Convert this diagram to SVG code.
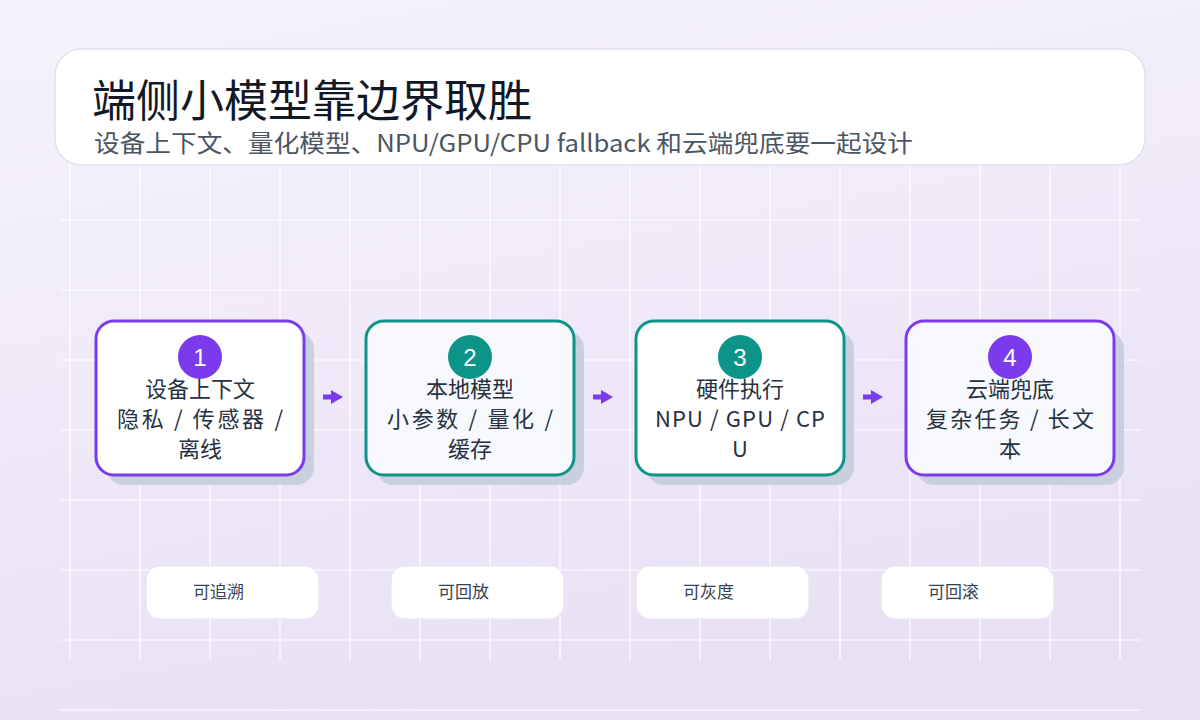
<svg xmlns="http://www.w3.org/2000/svg" width="1200" height="720" viewBox="0 0 1200 720">
<defs>
<linearGradient id="bg" x1="0" y1="0" x2="0.3" y2="1"><stop offset="0" stop-color="#f6f3fc"/><stop offset="1" stop-color="#e9e0f6"/></linearGradient>
<marker id="ah" markerWidth="12" markerHeight="14" refX="6" refY="7" orient="auto" markerUnits="userSpaceOnUse"><path d="M0,0 L12,7 L0,14 Z" fill="#7c3aed"/></marker>
<style>
.grid line{stroke:#ffffff;stroke-width:1.2}
.t{font-family:"Noto Sans CJK SC","Liberation Sans",sans-serif;fill:#1f2937}
.shadow{fill:#c9d0dd}
.lbl{font-size:22px;text-anchor:middle;fill:#273142}
.badge{font-size:24px;text-anchor:middle;fill:#fff;font-family:"Liberation Sans","Noto Sans CJK SC",sans-serif}
.pill{fill:#fff;stroke:#e3e6f0;stroke-width:1.2}
.pt{font-size:17px;fill:#334155}
.con{stroke:#7c3aed;stroke-width:5;fill:none}
</style>
</defs>
<rect width="1200" height="720" fill="url(#bg)"/>
<g class="grid">
<line x1="70" y1="160" x2="70" y2="660"/><line x1="140" y1="160" x2="140" y2="660"/><line x1="210" y1="160" x2="210" y2="660"/><line x1="280" y1="160" x2="280" y2="660"/><line x1="350" y1="160" x2="350" y2="660"/><line x1="420" y1="160" x2="420" y2="660"/><line x1="490" y1="160" x2="490" y2="660"/><line x1="560" y1="160" x2="560" y2="660"/><line x1="630" y1="160" x2="630" y2="660"/><line x1="700" y1="160" x2="700" y2="660"/><line x1="770" y1="160" x2="770" y2="660"/><line x1="840" y1="160" x2="840" y2="660"/><line x1="910" y1="160" x2="910" y2="660"/><line x1="980" y1="160" x2="980" y2="660"/><line x1="1050" y1="160" x2="1050" y2="660"/><line x1="1120" y1="160" x2="1120" y2="660"/>
<line x1="60" y1="220" x2="1140" y2="220"/><line x1="60" y1="290" x2="1140" y2="290"/><line x1="60" y1="360" x2="1140" y2="360"/><line x1="60" y1="430" x2="1140" y2="430"/><line x1="60" y1="500" x2="1140" y2="500"/><line x1="60" y1="570" x2="1140" y2="570"/><line x1="60" y1="640" x2="1140" y2="640"/><line x1="60" y1="710" x2="1140" y2="710"/>
</g>
<g id="header">
<rect x="55" y="49" width="1090" height="116" rx="26" fill="#fff" stroke="#dde3ee" stroke-width="1.5"/>
<text class="t" x="92" y="117" font-size="44" style="fill:#111827">端侧小模型靠边界取胜</text>
<text class="t" x="94" y="152" font-size="24" textLength="819" lengthAdjust="spacingAndGlyphs" style="fill:#4b5563">设备上下文、量化模型、NPU/GPU/CPU fallback 和云端兜底要一起设计</text>
</g>
<g id="connectors">
<line class="con" x1="323" y1="397" x2="337" y2="397" marker-end="url(#ah)"/>
<line class="con" x1="593" y1="397" x2="607" y2="397" marker-end="url(#ah)"/>
<line class="con" x1="863" y1="397" x2="877" y2="397" marker-end="url(#ah)"/>
</g>
<g id="n1">
<rect class="shadow" x="106" y="331" width="208" height="154" rx="18"/>
<rect x="96" y="321" width="208" height="154" rx="18" fill="#fff" stroke="#7c3aed" stroke-width="3"/>
<circle cx="200" cy="357" r="22" fill="#7c3aed"/><text class="badge" x="200" y="366">1</text>
<text class="t lbl" x="200" y="397">设备上下文</text><text class="t lbl" x="200" y="427" textLength="166">隐私 / 传感器 /</text><text class="t lbl" x="200" y="457">离线</text>
</g>
<g id="n2">
<rect class="shadow" x="376" y="331" width="208" height="154" rx="18"/>
<rect x="366" y="321" width="208" height="154" rx="18" fill="#f8f9fc" stroke="#0d9488" stroke-width="3"/>
<circle cx="470" cy="357" r="22" fill="#0d9488"/><text class="badge" x="470" y="366">2</text>
<text class="t lbl" x="470" y="397">本地模型</text><text class="t lbl" x="470" y="427" textLength="166">小参数 / 量化 /</text><text class="t lbl" x="470" y="457">缓存</text>
</g>
<g id="n3">
<rect class="shadow" x="646" y="331" width="208" height="154" rx="18"/>
<rect x="636" y="321" width="208" height="154" rx="18" fill="#fff" stroke="#0d9488" stroke-width="3"/>
<circle cx="740" cy="357" r="22" fill="#0d9488"/><text class="badge" x="740" y="366">3</text>
<text class="t lbl" x="740" y="397">硬件执行</text><text class="t lbl" x="740" y="427" textLength="170">NPU / GPU / CP</text><text class="t lbl" x="740" y="457">U</text>
</g>
<g id="n4">
<rect class="shadow" x="916" y="331" width="208" height="154" rx="18"/>
<rect x="906" y="321" width="208" height="154" rx="18" fill="#f8f9fc" stroke="#7c3aed" stroke-width="3"/>
<circle cx="1010" cy="357" r="22" fill="#7c3aed"/><text class="badge" x="1010" y="366">4</text>
<text class="t lbl" x="1010" y="397">云端兜底</text><text class="t lbl" x="1010" y="427" textLength="168">复杂任务 / 长文</text><text class="t lbl" x="1010" y="457">本</text>
</g>
<g id="p1"><rect class="pill" x="146" y="566" width="173" height="53" rx="14"/><text class="t pt" x="193" y="598">可追溯</text></g>
<g id="p2"><rect class="pill" x="391" y="566" width="173" height="53" rx="14"/><text class="t pt" x="438" y="598">可回放</text></g>
<g id="p3"><rect class="pill" x="636" y="566" width="173" height="53" rx="14"/><text class="t pt" x="683" y="598">可灰度</text></g>
<g id="p4"><rect class="pill" x="881" y="566" width="173" height="53" rx="14"/><text class="t pt" x="928" y="598">可回滚</text></g>
</svg>
